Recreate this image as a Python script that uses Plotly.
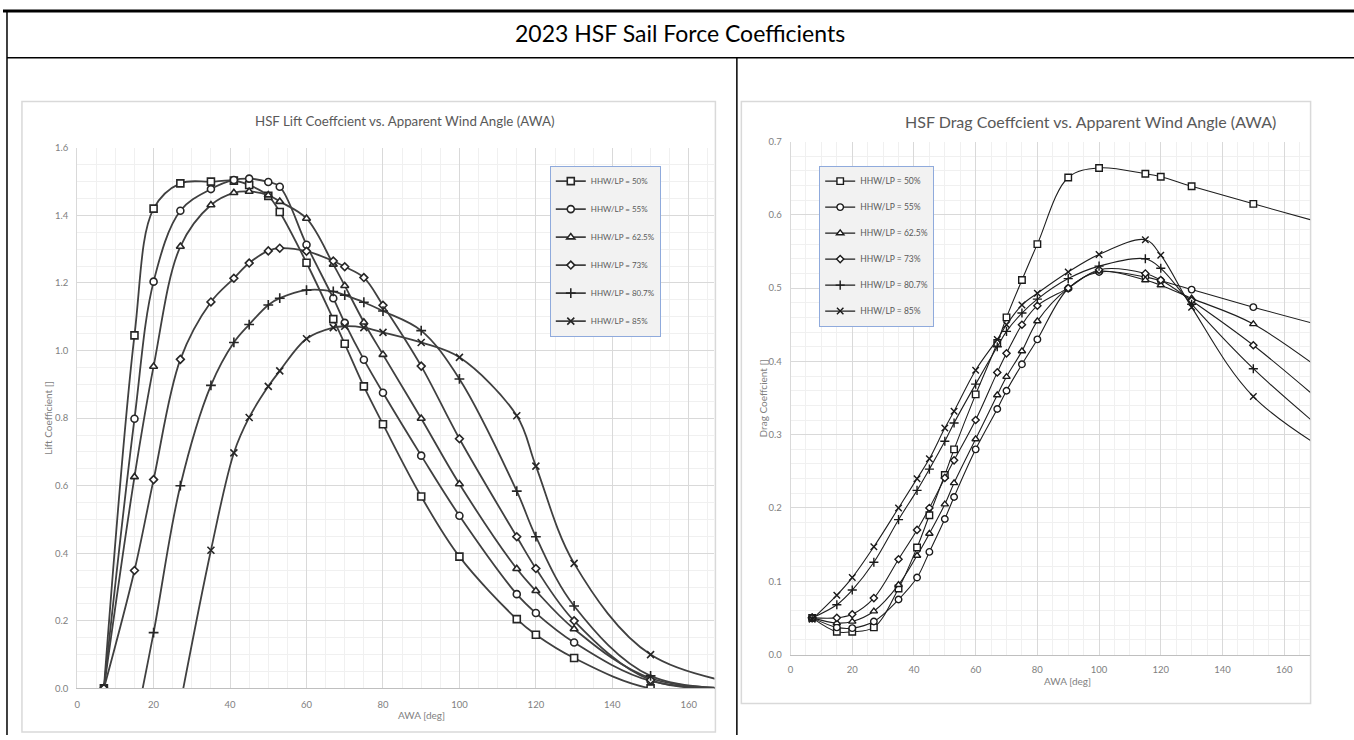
import plotly.graph_objects as go

W, H = 1354, 740

# ---------------- data ----------------
series_names = ["HHW/LP = 50%", "HHW/LP = 55%", "HHW/LP = 62.5%",
                "HHW/LP = 73%", "HHW/LP = 80.7%", "HHW/LP = 85%"]

awa_full = [7, 15, 20, 27, 35, 41, 45, 50, 53, 60, 67, 70, 75, 80, 90, 100, 115, 120, 130, 150, 180]
awa_lift_807 = [15, 20, 27, 35, 41, 45, 50, 53, 60, 67, 70, 75, 80, 90, 100, 115, 120, 130, 150, 180]
awa_lift_85 = [27, 35, 41, 45, 50, 53, 60, 67, 70, 75, 80, 90, 100, 115, 120, 130, 150, 180]

lift_50 = [0.0, 1.045, 1.42, 1.495, 1.50, 1.503, 1.49, 1.458, 1.41, 1.26, 1.093, 1.02, 0.894, 0.782, 0.568, 0.39, 0.205, 0.159, 0.09, 0.0, 0.0]
lift_55 = [0.0, 0.798, 1.204, 1.414, 1.478, 1.505, 1.509, 1.499, 1.485, 1.313, 1.155, 1.082, 0.973, 0.875, 0.689, 0.511, 0.279, 0.223, 0.136, 0.022, 0.0]
lift_625 = [0.0, 0.626, 0.953, 1.308, 1.431, 1.467, 1.471, 1.46, 1.441, 1.391, 1.255, 1.192, 1.084, 0.988, 0.799, 0.605, 0.354, 0.289, 0.176, 0.03, 0.0]
lift_73 = [0.0, 0.349, 0.618, 0.974, 1.144, 1.214, 1.259, 1.295, 1.303, 1.294, 1.265, 1.248, 1.216, 1.134, 0.954, 0.739, 0.449, 0.355, 0.20, 0.025, 0.0]
lift_807 = [-0.12, 0.165, 0.60, 0.897, 1.024, 1.077, 1.135, 1.155, 1.179, 1.175, 1.164, 1.143, 1.117, 1.059, 0.916, 0.584, 0.449, 0.244, 0.037, 0.0]
lift_85 = [-0.045, 0.409, 0.697, 0.802, 0.894, 0.94, 1.035, 1.068, 1.072, 1.068, 1.054, 1.024, 0.98, 0.807, 0.658, 0.37, 0.10, 0.0]

drag_50 = [0.05, 0.031, 0.031, 0.037, 0.09, 0.146, 0.19, 0.245, 0.28, 0.355, 0.425, 0.46, 0.511, 0.56, 0.651, 0.664, 0.656, 0.652, 0.639, 0.615, 0.58]
drag_55 = [0.05, 0.037, 0.036, 0.045, 0.075, 0.105, 0.14, 0.185, 0.215, 0.28, 0.335, 0.36, 0.396, 0.43, 0.4995, 0.522, 0.515, 0.51, 0.498, 0.474, 0.44]
drag_625 = [0.05, 0.043, 0.045, 0.059, 0.095, 0.135, 0.165, 0.205, 0.234, 0.294, 0.354, 0.379, 0.414, 0.455, 0.50, 0.523, 0.511, 0.504, 0.486, 0.451, 0.363]
drag_73 = [0.05, 0.05, 0.055, 0.077, 0.13, 0.17, 0.20, 0.241, 0.265, 0.32, 0.385, 0.411, 0.45, 0.476, 0.50, 0.525, 0.52, 0.511, 0.483, 0.422, 0.316]
drag_807 = [0.05, 0.068, 0.088, 0.126, 0.184, 0.224, 0.253, 0.291, 0.316, 0.369, 0.42, 0.441, 0.466, 0.485, 0.513, 0.53, 0.54, 0.527, 0.478, 0.39, 0.28]
drag_85 = [0.048, 0.081, 0.105, 0.147, 0.20, 0.24, 0.267, 0.309, 0.332, 0.388, 0.43, 0.45, 0.477, 0.493, 0.522, 0.546, 0.566, 0.545, 0.474, 0.352, 0.262]

lift_x = [awa_full, awa_full, awa_full, awa_full, awa_lift_807, awa_lift_85]
lift_y = [lift_50, lift_55, lift_625, lift_73, lift_807, lift_85]
drag_y = [drag_50, drag_55, drag_625, drag_73, drag_807, drag_85]

symbols = ["square", "circle", "triangle-up", "diamond", "cross-thin", "x-thin"]
msizes = [7, 7, 7, 6, 7, 7]


def px(x):
    return x / W


def py(y):
    return 1 - y / H


fig = go.Figure()

LIFT_LINE = "#404040"
DRAG_LINE = "#1e1e1e"

for i, name in enumerate(series_names):
    thin = symbols[i].endswith("thin")
    fig.add_trace(go.Scatter(
        x=lift_x[i], y=lift_y[i], name=name, mode="lines+markers",
        line=dict(color=LIFT_LINE, width=1.8, shape="spline", smoothing=1.0),
        marker=dict(symbol=symbols[i], size=msizes[i],
                    color=LIFT_LINE if thin else "white",
                    line=dict(color="#262626", width=1.6)),
        xaxis="x", yaxis="y", legend="legend", legendgroup="L%d" % i,
        cliponaxis=True,
    ))

for i, name in enumerate(series_names):
    thin = symbols[i].endswith("thin")
    fig.add_trace(go.Scatter(
        x=awa_full, y=drag_y[i], name=name, mode="lines+markers",
        line=dict(color=DRAG_LINE, width=1.1, shape="spline", smoothing=1.0),
        marker=dict(symbol=symbols[i], size=msizes[i] - 0.5,
                    color=DRAG_LINE if thin else "white",
                    line=dict(color="#1a1a1a", width=1.4)),
        xaxis="x2", yaxis="y2", legend="legend2", legendgroup="D%d" % i,
        cliponaxis=True,
    ))

FONT = "Lato, Open Sans, sans-serif"
tickfont = dict(family=FONT, size=9.5, color="#808080")
major = "#d9d9d9"
minor_c = "#f0f0f0"

# plot area pixels
L_x0, L_x1, L_y0, L_y1 = 74.3, 713, 144, 692.7
D_x0, D_x1, D_y0, D_y1 = 789.3, 1310, 137.6, 658.3

fig.update_layout(
    width=W, height=H, margin=dict(l=0, r=0, t=0, b=0),
    paper_bgcolor="white", plot_bgcolor="white",
    showlegend=True,
    xaxis=dict(domain=[px(L_x0), px(L_x1)], range=[0, 166.7], dtick=20, tick0=0,
               showgrid=True, gridcolor=major, gridwidth=1,
               minor=dict(dtick=5, showgrid=True, gridcolor=minor_c),
               zeroline=False, showline=True, linecolor="#bfbfbf", linewidth=1,
               tickfont=tickfont, ticks="", ticklabelstandoff=7, anchor="y"),
    yaxis=dict(domain=[py(L_y1), py(L_y0)], range=[0, 1.6], dtick=0.2, tick0=0,
               tickformat=".1f", showgrid=True, gridcolor=major, gridwidth=1,
               minor=dict(dtick=0.05, showgrid=True, gridcolor=minor_c),
               zeroline=False, showline=True, linecolor=major, linewidth=1,
               tickfont=tickfont, ticks="", ticklabelstandoff=6, anchor="x"),
    xaxis2=dict(domain=[px(D_x0), px(D_x1)], range=[0, 168.4], dtick=20, tick0=0,
                showgrid=True, gridcolor=major, gridwidth=1,
                minor=dict(dtick=5, showgrid=True, gridcolor=minor_c),
                zeroline=False, showline=True, linecolor="#bfbfbf", linewidth=1,
                tickfont=tickfont, ticks="", ticklabelstandoff=6, anchor="y2"),
    yaxis2=dict(domain=[py(D_y1), py(D_y0)], range=[0, 0.7], dtick=0.1, tick0=0,
                tickformat=".1f", showgrid=True, gridcolor=major, gridwidth=1,
                minor=dict(dtick=0.02, showgrid=True, gridcolor=minor_c),
                zeroline=False, showline=True, linecolor=major, linewidth=1,
                tickfont=tickfont, ticks="", ticklabelstandoff=6, anchor="x2"),
    legend=dict(x=px(548), y=py(162), xanchor="left", yanchor="top",
                bgcolor="#f2f2f2", bordercolor="#8faadc", borderwidth=1,
                font=dict(family=FONT, size=8, color="#595959"),
                traceorder="grouped", tracegroupgap=9, itemwidth=30),
    legend2=dict(x=px(818), y=py(162), xanchor="left", yanchor="top",
                 bgcolor="#f2f2f2", bordercolor="#8faadc", borderwidth=1,
                 font=dict(family=FONT, size=8.5, color="#595959"),
                 traceorder="grouped", tracegroupgap=7, itemwidth=30),
)

shapes = []
# table lines
shapes.append(dict(type="line", xref="paper", yref="paper", x0=0, x1=1, y0=py(5), y1=py(5),
                   line=dict(color="black", width=3)))
shapes.append(dict(type="line", xref="paper", yref="paper", x0=px(4), x1=px(4), y0=py(5), y1=0,
                   line=dict(color="black", width=1.5)))
shapes.append(dict(type="line", xref="paper", yref="paper", x0=px(4), x1=1, y0=py(52.5), y1=py(52.5),
                   line=dict(color="black", width=1.5)))
shapes.append(dict(type="line", xref="paper", yref="paper", x0=px(735.5), x1=px(735.5), y0=py(52.5), y1=0,
                   line=dict(color="black", width=1.5)))
# chart area borders
shapes.append(dict(type="rect", xref="paper", yref="paper", x0=px(19), x1=px(714), y0=py(737), y1=py(97),
                   line=dict(color="#d9d9d9", width=1.5), fillcolor="rgba(0,0,0,0)", layer="below"))
shapes.append(dict(type="rect", xref="paper", yref="paper", x0=px(740), x1=px(1310.5), y0=py(708), y1=py(97),
                   line=dict(color="#d9d9d9", width=1.5), fillcolor="rgba(0,0,0,0)", layer="below"))
fig.update_layout(shapes=shapes)

ann = [
    dict(text="2023 HSF Sail Force Coefficients", x=px(679), y=py(27),
         font=dict(family=FONT, size=23, color="black")),
    dict(text="HSF Lift Coeffcient vs. Apparent Wind Angle (AWA)", x=px(402), y=py(117),
         font=dict(family=FONT, size=13.3, color="#595959")),
    dict(text="HSF Drag Coeffcient vs. Apparent Wind Angle (AWA)", x=px(1090), y=py(117),
         font=dict(family=FONT, size=16, color="#595959")),
    dict(text="AWA [deg]", x=px(419), y=py(720),
         font=dict(family=FONT, size=10, color="#7f7f7f")),
    dict(text="AWA [deg]", x=px(1067), y=py(685),
         font=dict(family=FONT, size=10, color="#7f7f7f")),
    dict(text="Lift Coefficient []", x=px(45), y=py(418), textangle=-90,
         font=dict(family=FONT, size=10, color="#7f7f7f")),
    dict(text="Drag Coeffcient []", x=px(762), y=py(398), textangle=-90,
         font=dict(family=FONT, size=10, color="#7f7f7f")),
]
for a in ann:
    a.update(xref="paper", yref="paper", xanchor="center", yanchor="middle", showarrow=False)
fig.update_layout(annotations=ann)

fig.write_html("out.html")
